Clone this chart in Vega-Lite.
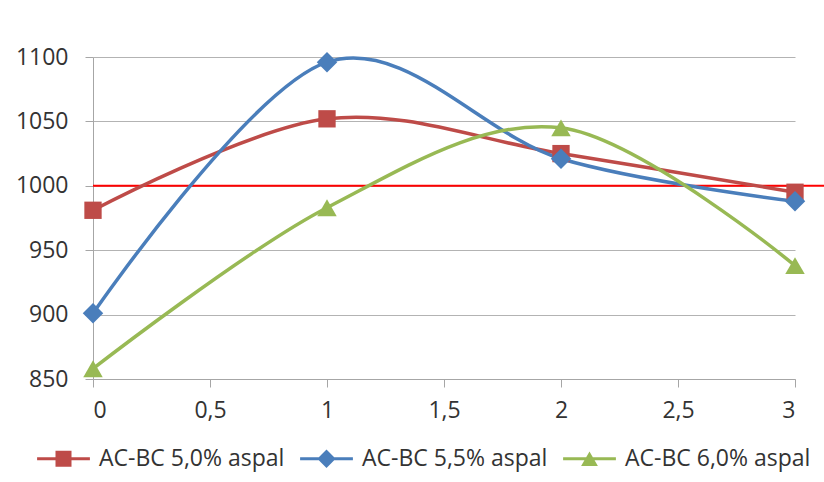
{
  "$schema": "https://vega.github.io/schema/vega-lite/v6.json",
  "width": 702,
  "height": 322,
  "autosize": {"type": "none"},
  "padding": {"left": 93, "top": 57, "right": 29, "bottom": 103},
  "background": "white",
  "config": {
    "font": "Open Sans",
    "view": {"stroke": null}
  },
  "data": {
    "values": [
      {"series": "AC-BC 5,0% aspal", "x": 0, "y": 981},
      {"series": "AC-BC 5,0% aspal", "x": 1, "y": 1052},
      {"series": "AC-BC 5,0% aspal", "x": 2, "y": 1025},
      {"series": "AC-BC 5,0% aspal", "x": 3, "y": 995},
      {"series": "AC-BC 5,5% aspal", "x": 0, "y": 901},
      {"series": "AC-BC 5,5% aspal", "x": 1, "y": 1096},
      {"series": "AC-BC 5,5% aspal", "x": 2, "y": 1021},
      {"series": "AC-BC 5,5% aspal", "x": 3, "y": 988},
      {"series": "AC-BC 6,0% aspal", "x": 0, "y": 858},
      {"series": "AC-BC 6,0% aspal", "x": 1, "y": 983},
      {"series": "AC-BC 6,0% aspal", "x": 2, "y": 1045},
      {"series": "AC-BC 6,0% aspal", "x": 3, "y": 938}
    ]
  },
  "encoding": {
    "x": {
      "field": "x", "type": "quantitative",
      "scale": {"domain": [0, 3], "nice": false, "zero": false},
      "axis": {
        "title": null,
        "values": [0, 0.5, 1, 1.5, 2, 2.5, 3],
        "format": "~g",
        "labelExpr": "replace(datum.label, '.', ',')",
        "grid": false,
        "domainColor": "#a6a6a6",
        "tickColor": "#a6a6a6",
        "tickSize": 8,
        "labelPadding": 12,
        "labelFontSize": 23,
        "labelColor": "#333333"
      }
    },
    "y": {
      "field": "y", "type": "quantitative",
      "scale": {"domain": [850, 1100], "nice": false, "zero": false},
      "axis": {
        "title": null,
        "values": [850, 900, 950, 1000, 1050, 1100],
        "format": "d",
        "grid": true,
        "gridColor": "#b3b3b3",
        "domainColor": "#a6a6a6",
        "tickColor": "#a6a6a6",
        "tickSize": 8,
        "labelPadding": 17,
        "labelFontSize": 23,
        "labelColor": "#333333"
      }
    }
  },
  "layer": [
    {
      "data": {"values": [{"x": 0, "x2": 3.13, "y": 1000}]},
      "mark": {"type": "rule", "color": "#FF0000", "strokeWidth": 2},
      "encoding": {"x2": {"field": "x2"}}
    },
    {
      "transform": [{"filter": "datum.series === 'AC-BC 5,0% aspal'"}],
      "mark": {"type": "line", "interpolate": "cardinal", "strokeWidth": 3.5, "color": "#BE4B48"}
    },
    {
      "transform": [{"filter": "datum.series === 'AC-BC 5,5% aspal'"}],
      "mark": {"type": "line", "interpolate": "cardinal", "strokeWidth": 3.5, "color": "#4A7EBB"}
    },
    {
      "transform": [{"filter": "datum.series === 'AC-BC 6,0% aspal'"}],
      "mark": {"type": "line", "interpolate": "cardinal", "strokeWidth": 3.5, "color": "#98B954"}
    },
    {
      "transform": [{"filter": "datum.series === 'AC-BC 5,0% aspal'"}],
      "mark": {"type": "point", "filled": true, "opacity": 1, "shape": "square", "size": 300, "color": "#BE4B48"}
    },
    {
      "transform": [{"filter": "datum.series === 'AC-BC 5,5% aspal'"}],
      "mark": {"type": "point", "filled": true, "opacity": 1, "shape": "diamond", "size": 420, "color": "#4A7EBB"}
    },
    {
      "transform": [{"filter": "datum.series === 'AC-BC 6,0% aspal'"}],
      "mark": {"type": "point", "filled": true, "opacity": 1, "shape": "triangle-up", "size": 380, "color": "#98B954"}
    },
    {
      "mark": {"type": "point", "filled": true, "opacity": 0, "size": 256},
      "encoding": {
        "color": {
          "field": "series", "type": "nominal",
          "scale": {"domain": ["AC-BC 5,0% aspal", "AC-BC 5,5% aspal", "AC-BC 6,0% aspal"], "range": ["#BE4B48", "#4A7EBB", "#98B954"]},
          "legend": {
            "orient": "none", "legendX": -41, "legendY": 390, "direction": "horizontal",
            "title": null, "labelFontSize": 23, "labelColor": "#333333", "labelFont": "Open Sans",
            "labelLimit": 0,
            "symbolSize": 256, "symbolOpacity": 1, "symbolStrokeWidth": 0,
            "labelOffset": 24, "columnPadding": 15
          }
        },
        "shape": {
          "field": "series", "type": "nominal",
          "scale": {
            "domain": ["AC-BC 5,0% aspal", "AC-BC 5,5% aspal", "AC-BC 6,0% aspal"],
            "range": [
              "M-3.3,-0.2L3.3,-0.2L3.3,0.2L-3.3,0.2Z M-1,-1L1,-1L1,1L-1,1Z",
              "M-3.3,-0.2L3.3,-0.2L3.3,0.2L-3.3,0.2Z M0,-1.15L1.15,0L0,1.15L-1.15,0Z",
              "M-3.3,-0.2L3.3,-0.2L3.3,0.2L-3.3,0.2Z M0,-0.9L1.05,0.9L-1.05,0.9Z"
            ]
          },
          "legend": {
            "orient": "none", "legendX": -41, "legendY": 390, "direction": "horizontal",
            "title": null, "labelFontSize": 23, "labelColor": "#333333", "labelFont": "Open Sans",
            "labelLimit": 0,
            "symbolSize": 256, "symbolOpacity": 1, "symbolStrokeWidth": 0,
            "labelOffset": 24, "columnPadding": 15
          }
        }
      }
    }
  ]
}
